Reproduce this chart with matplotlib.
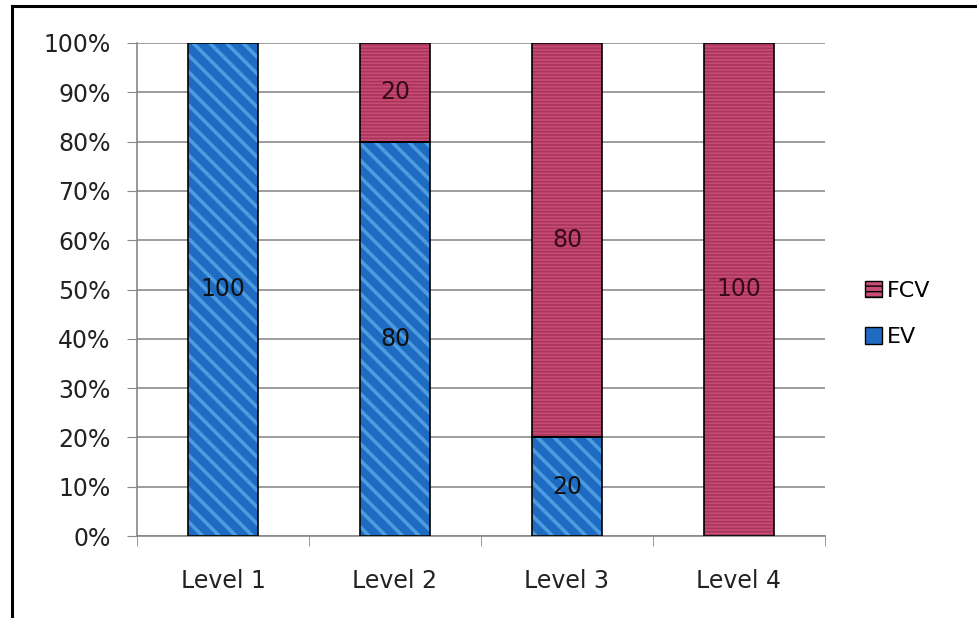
import matplotlib.pyplot as plt
from matplotlib.patches import Patch
from matplotlib.lines import Line2D

# data
levels = ["Level 1", "Level 2", "Level 3", "Level 4"]
ev = [100, 80, 20, 0]
fcv = [0, 20, 80, 100]

blue_face = "#1d6cc2"
blue_hatch = "#4f9be0"
pink_face = "#c84d74"
pink_hatch = "#a8345c"

plt.rcParams['font.family'] = ['DejaVu Sans']

fig = plt.figure(figsize=(9.78, 6.18), dpi=100)
ax = fig.add_axes([137/978, 1-536/618, (825-137)/978, (536-43)/618])

x = list(range(len(levels)))
tot = [a + b for a, b in zip(ev, fcv)]
ev_pct = [a / t * 100 for a, t in zip(ev, tot)]
fcv_pct = [b / t * 100 for b, t in zip(fcv, tot)]
w = 0.41

# fill + hatch, then outline on top
plt.rcParams['hatch.linewidth'] = 2.6
ax.bar(x, ev_pct, w, color=blue_face, edgecolor=blue_hatch, hatch='\\\\', linewidth=0, zorder=2)
plt.rcParams['hatch.linewidth'] = 1.2
ax.bar(x, fcv_pct, w, bottom=ev_pct, color=pink_face, edgecolor=pink_hatch, hatch='-----', linewidth=0, zorder=2)
for i in x:
    if ev[i] > 0:
        ax.bar(i, ev_pct[i], w, fill=False, edgecolor="black", linewidth=1.2, zorder=3)
        ax.text(i, ev_pct[i] / 2, str(ev[i]), ha='center', va='center', fontsize=17, color="#111111", zorder=4)
    if fcv[i] > 0:
        ax.bar(i, fcv_pct[i], w, bottom=ev_pct[i], fill=False, edgecolor="black", linewidth=1.2, zorder=3)
        ax.text(i, ev_pct[i] + fcv_pct[i] / 2, str(fcv[i]), ha='center', va='center', fontsize=17, color="#3a0a18", zorder=4)

ax.set_xlim(-0.5, 3.5)
ax.set_ylim(0, 100)
ax.set_yticks(range(0, 101, 10))
ax.set_yticklabels([f"{v}%" for v in range(0, 101, 10)], fontsize=17, color="#222222")
ax.set_xticks(x)
ax.set_xticklabels(levels, fontsize=17, color="#222222")
ax.tick_params(axis='x', length=0, pad=24)
ax.set_xticks([-0.5, 0.5, 1.5, 2.5, 3.5], minor=True)
ax.tick_params(axis='x', which='minor', length=7, color="#888888")
ax.tick_params(axis='y', length=7, color="#888888", pad=12)
ax.yaxis.grid(True, color="#8c8c8c", linewidth=1.2, zorder=0)
ax.set_axisbelow(True)
for s in ['top', 'right']:
    ax.spines[s].set_visible(False)
ax.spines['left'].set_color("#888888")
ax.spines['bottom'].set_color("#888888")
ax.spines['left'].set_linewidth(1.2)
ax.spines['bottom'].set_linewidth(1.2)

plt.rcParams['hatch.linewidth'] = 1.0
handles = [Patch(facecolor=pink_face, edgecolor="black", hatch='---', label="FCV"),
           Patch(facecolor=blue_face, edgecolor="black", label="EV")]
fig.legend(handles=handles, loc='center left', bbox_to_anchor=(865/978, 1-314/618),
           frameon=False, fontsize=16, handlelength=0.75, handleheight=0.75,
           handletextpad=0.25, labelspacing=1.2, borderpad=0, borderaxespad=0)

# outer frame (top and left only, rest is cropped)
fig.add_artist(Line2D([12/978, 1], [1-6/618, 1-6/618], color="black", linewidth=2.2))
fig.add_artist(Line2D([12/978, 12/978], [0, 1-6/618], color="black", linewidth=2.2))

fig.savefig("out.png", dpi=100)
